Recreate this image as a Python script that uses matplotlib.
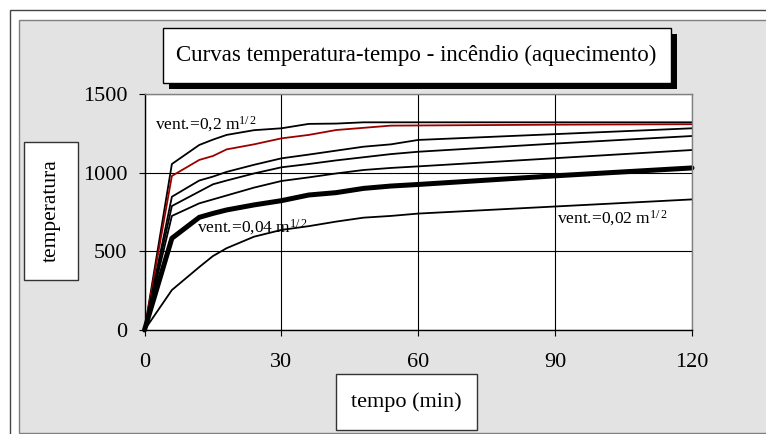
import matplotlib
matplotlib.use("Agg")
import matplotlib.pyplot as plt
from matplotlib.patches import Rectangle

plt.rcParams['font.family'] = ['Liberation Serif', 'DejaVu Serif']
plt.rcParams['mathtext.fontset'] = 'custom'
plt.rcParams['mathtext.rm'] = 'Liberation Serif'
plt.rcParams['mathtext.it'] = 'Liberation Serif:italic'

# ---- data ----
tempo = [0, 6, 12, 15, 18, 24, 30, 36, 42, 48, 54, 60, 90, 120]
curva_02 = [0, 1055, 1176, 1210, 1240, 1270, 1282, 1310, 1312, 1320, 1320, 1320, 1320, 1320]
curva_vermelha = [0, 979, 1081, 1106, 1148, 1180, 1218, 1240, 1271, 1285, 1299, 1300, 1305, 1308]
curva_3 = [0, 847, 950, 975, 1005, 1050, 1091, 1115, 1140, 1165, 1180, 1208, 1245, 1282]
curva_4 = [0, 788, 880, 926, 950, 995, 1034, 1055, 1078, 1098, 1118, 1133, 1185, 1233]
curva_5 = [0, 725, 805, 830, 855, 905, 947, 970, 995, 1017, 1030, 1040, 1092, 1144]
curva_004 = [0, 583, 716, 741, 763, 795, 822, 858, 873, 900, 915, 925, 980, 1030]
curva_002 = [0, 254, 400, 470, 520, 593, 636, 660, 689, 714, 725, 740, 785, 830]
xticks = [0, 30, 60, 90, 120]
yticks = [0, 500, 1000, 1500]

W, H = 766, 434
fig = plt.figure(figsize=(W / 100, H / 100), dpi=100)
fig.patch.set_facecolor('white')


def rect(x0, y0, x1, y1, **kw):
    r = Rectangle((x0 / W, 1 - y1 / H), (x1 - x0) / W, (y1 - y0) / H,
                  transform=fig.transFigure, **kw)
    fig.add_artist(r)
    return r


# outer frame and gray chart area
rect(10, 10, 800, 450, facecolor='white', edgecolor='#444444', lw=1.0, zorder=0)
rect(19, 20, 800, 433, facecolor='#e3e3e3', edgecolor='#808080', lw=1.0, zorder=0)

ax = fig.add_axes([144.5 / W, 1 - 330 / H, (692 - 144.5) / W, (330 - 94) / H])
ax.set_facecolor('white')
ax.set_xlim(0, 120)
ax.set_ylim(0, 1500)
ax.set_xticks(xticks)
ax.set_yticks(yticks)
ax.grid(True, color='black', lw=0.8)
ax.set_axisbelow(True)
for s in ['top', 'right']:
    ax.spines[s].set_color('#808080')
    ax.spines[s].set_linewidth(1.0)
for s in ['left', 'bottom']:
    ax.spines[s].set_color('black')
    ax.spines[s].set_linewidth(1.0)
ax.tick_params(direction='out', length=4.5, width=0.8, labelsize=16, colors='black')
ax.tick_params(axis='x', pad=12)
ax.tick_params(axis='y', pad=8)

lw = 1.3
ax.plot(tempo, curva_02, color='black', lw=lw, clip_on=False)
ax.plot(tempo, curva_vermelha, color='#9b0000', lw=lw, clip_on=False)
ax.plot(tempo, curva_3, color='black', lw=lw, clip_on=False)
ax.plot(tempo, curva_4, color='black', lw=lw, clip_on=False)
ax.plot(tempo, curva_5, color='black', lw=lw, clip_on=False)
ax.plot(tempo, curva_004, color='black', lw=3.6, clip_on=False,
        solid_capstyle='round', solid_joinstyle='round')
ax.plot(tempo, curva_002, color='black', lw=lw, clip_on=False)

ann = dict(fontsize=12.5, ha='left', va='center')
ax.text(2.3, 1310, r'vent.=0,2 m$^{\mathrm{1/\,2}}$', **ann)
ax.text(11.5, 655, r'vent.=0,04 m$^{\mathrm{1/\,2}}$', **ann)
ax.text(90.5, 712, r'vent.=0,02 m$^{\mathrm{1/\,2}}$', **ann)

# title box with shadow
rect(169, 34, 677, 89, facecolor='black', edgecolor='black', lw=0, zorder=1)
rect(163, 28, 671, 83, facecolor='white', edgecolor='black', lw=1.0, zorder=2)
fig.text(416 / W, 1 - 55 / H, 'Curvas temperatura-tempo - incêndio (aquecimento)',
         ha='center', va='center', fontsize=16.5, zorder=3)

# y label box
rect(24, 142, 78, 280, facecolor='white', edgecolor='#333333', lw=1.0, zorder=2)
fig.text(51 / W, 1 - 211 / H, 'temperatura', rotation=90, ha='center', va='center',
         fontsize=15.5, zorder=3)

# x label box
rect(336, 374, 477, 430, facecolor='white', edgecolor='#333333', lw=1.0, zorder=2)
fig.text(406.5 / W, 1 - 402 / H, 'tempo (min)', ha='center', va='center',
         fontsize=16, zorder=3)

fig.savefig('out.png', dpi=100)
